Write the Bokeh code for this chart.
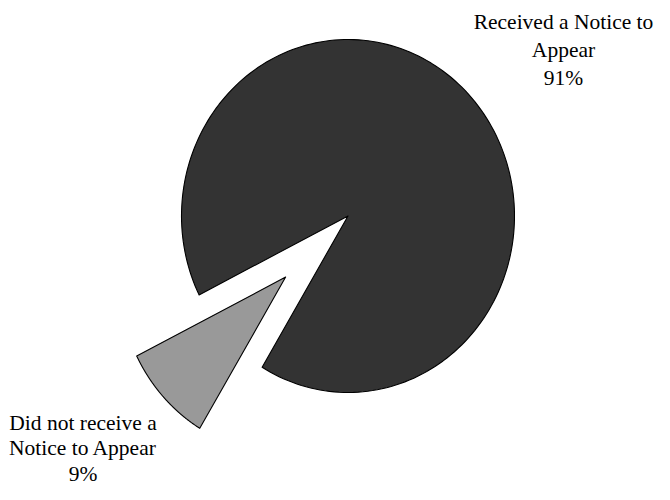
import numpy as np
from bokeh.plotting import figure
from bokeh.models import ColumnDataSource, Range1d
from bokeh.core.properties import value
from bokeh.embed import file_html
from bokeh.resources import INLINE

# ---- data ----
categories = ["Received a Notice to\nAppear", "Did not receive a\nNotice to Appear"]
percents = [91, 9]
colors = ["#333333", "#999999"]
explode = [0.0, 0.51]

# ---- layout (pixel space of the figure; page margin is 8px) ----
W, H = 654, 484
cx, cy = 347.5, 215.5          # pie centre
rx, ry = 166.5, 176.5          # pie radii (slightly stretched vertically)
start_deg = 206.55             # first slice starts here, going clockwise

p = figure(width=W, height=H, output_backend="svg", toolbar_location=None,
           x_range=Range1d(0, W), y_range=Range1d(H, 0), min_border=0)
p.axis.visible = False
p.grid.visible = False
p.outline_line_color = None
p.background_fill_color = "white"

xs, ys = [], []
total = float(sum(percents))
a0 = np.radians(start_deg)
for pct, ex in zip(percents, explode):
    span = 2 * np.pi * pct / total
    a1 = a0 - span
    t = np.linspace(a0, a1, 200)
    mid = (a0 + a1) / 2
    ox = cx + ex * rx * np.cos(mid)
    oy = cy - ex * ry * np.sin(mid)
    px = np.concatenate([[ox], ox + rx * np.cos(t), [ox]])
    py = np.concatenate([[oy], oy - ry * np.sin(t), [oy]])
    xs.append(list(px))
    ys.append(list(py))
    a0 = a1

src = ColumnDataSource(dict(xs=xs, ys=ys, color=colors))
p.patches("xs", "ys", source=src, fill_color="color", line_color="black",
          line_width=1.1, line_join="round")

# ---- labels ----
label_pos = [(563.0, 21.3, 28.0), (82.5, 422.0, 25.5)]   # centre x, first baseline, line gap
lx, ly, lt = [], [], []
for cat, pct, (x0, y0, gap) in zip(categories, percents, label_pos):
    lines = cat.split("\n") + [f"{pct}%"]
    for i, ln in enumerate(lines):
        lx.append(x0)
        ly.append(y0 + i * gap)
        lt.append(ln)

lsrc = ColumnDataSource(dict(x=lx, y=ly, text=lt))
p.text("x", "y", text="text", source=lsrc, text_align="center",
       text_baseline="alphabetic", text_font=value("Liberation Serif"),
       text_font_size="21.5px", text_color="#000000")

open("out.html", "w").write(file_html(p, INLINE))
